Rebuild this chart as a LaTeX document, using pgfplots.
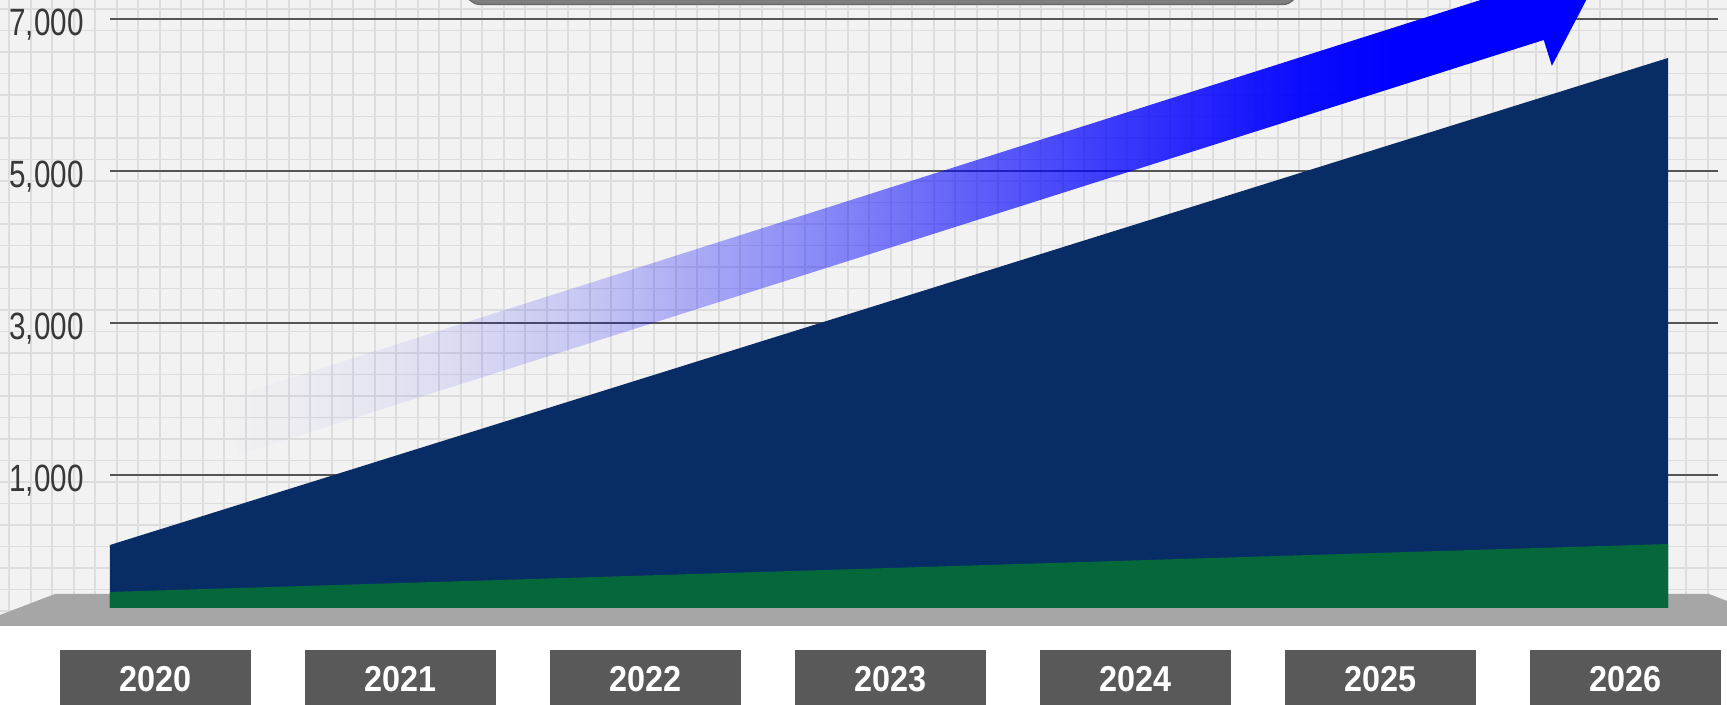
\documentclass[border=0pt]{standalone}
\usepackage{pgfplots}
\pgfplotsset{compat=1.18}
\usepackage{fontspec}
\setmainfont{Liberation Sans}
\usetikzlibrary{fadings}
\definecolor{bgc}{HTML}{F2F2F2}
\definecolor{gridc}{HTML}{DDDDDD}
\definecolor{navy}{HTML}{082D66}
\definecolor{dgreen}{HTML}{05683A}
\definecolor{floorc}{HTML}{A6A6A6}
\definecolor{boxc}{HTML}{595959}
\definecolor{majc}{HTML}{555555}
\definecolor{labc}{HTML}{383838}
\definecolor{topbox}{HTML}{7F7F7F}
\definecolor{arrowblue}{HTML}{0000FF}

\pgfdeclarehorizontalshading{arrowshade}{100bp}{color(0bp)=(black); color(25bp)=(black); color(31bp)=(white!5!black); color(38.5bp)=(white!18!black); color(47.5bp)=(white!45!black); color(57bp)=(white!74!black); color(64.5bp)=(white!95!black); color(68bp)=(white); color(100bp)=(white)}
\pgfdeclarefading{arrowfade}{\pgfuseshading{arrowshade}}

\begin{document}
\begin{tikzpicture}
\useasboundingbox (0,0) rectangle (863.5pt,352.5pt);
\clip (0,0) rectangle (863.5pt,352.5pt);
\begin{scope}[x=0.5pt,y=0.5pt]
  \fill[white] (0,0) rectangle (1727,705);
  \fill[bgc] (0,79) rectangle (1727,705);
  \foreach \i in {0,...,80} {\draw[gridc, line width=0.9pt] ({9.3+21.5*\i},79) -- ({9.3+21.5*\i},705);}
  \foreach \k in {0,...,28} {\draw[gridc, line width=0.9pt] (0,{696-21.5*\k}) -- (1727,{696-21.5*\k});}
  \fill[floorc] (0,90) -- (55,111) -- (1709,111) -- (1727,104) -- (1727,79) -- (0,79) -- cycle;
  \fill[topbox, draw=black!60, line width=0.6pt, rounded corners=7pt] (466,760) rectangle (1297,700.5);
\end{scope}

\begin{axis}[
  at={(55pt,48.5pt)}, anchor=south west,
  scale only axis, width=804pt, height=294.5pt,
  xmin=0, xmax=6.1925, ymin=-750, ymax=7000,
  axis line style={draw=none},
  major tick length=0pt, minor tick num=0,
  ytick={1000,3000,5000,7000},
  yticklabels={{\scalebox{0.78}[1]{1,000}},{\scalebox{0.78}[1]{3,000}},{\scalebox{0.78}[1]{5,000}},{\scalebox{0.78}[1]{7,000}}},
  yticklabel style={anchor=east, inner sep=0pt, xshift=-13pt, yshift=-3pt, text=labc, font=\fontsize{19}{19}\selectfont},
  ymajorgrids,
  major grid style={majc, line width=0.6pt},
  xtick={0.1745,1.1181,2.0617,3.0053,3.9489,4.8925,5.8361},
  xticklabels={{\scalebox{0.9}[1]{2020}},{\scalebox{0.9}[1]{2021}},{\scalebox{0.9}[1]{2022}},{\scalebox{0.9}[1]{2023}},{\scalebox{0.9}[1]{2024}},{\scalebox{0.9}[1]{2025}},{\scalebox{0.9}[1]{2026}}},
  xticklabel style={anchor=north, inner sep=0pt, yshift=-21pt, fill=boxc, text=white, minimum width=95.5pt, minimum height=29pt, font=\bfseries\fontsize{18}{18}\selectfont},
]
\addplot[fill=navy, draw=none] coordinates {(0,-750) (0,79) (1,1147) (2,2215) (3,3283) (4,4351) (5,5419) (6,6487) (6,-750)} -- cycle;
\addplot[fill=dgreen, draw=none] coordinates {(0,-750) (0,-539) (1,-434) (2,-329) (3,-224) (4,-118) (5,-13) (6,92) (6,-750)} -- cycle;
\end{axis}

\begin{scope}[x=0.5pt,y=0.5pt]
  \fill[arrowblue, path fading=arrowfade] (221.35,304.9) -- (1526.75,719.56) -- (1518.56,745.4) -- (1588.8,709.2) -- (1552.2,639.2) -- (1544.05,665.04) -- (238.65,250.3) -- cycle;
\end{scope}
\end{tikzpicture}
\end{document}
